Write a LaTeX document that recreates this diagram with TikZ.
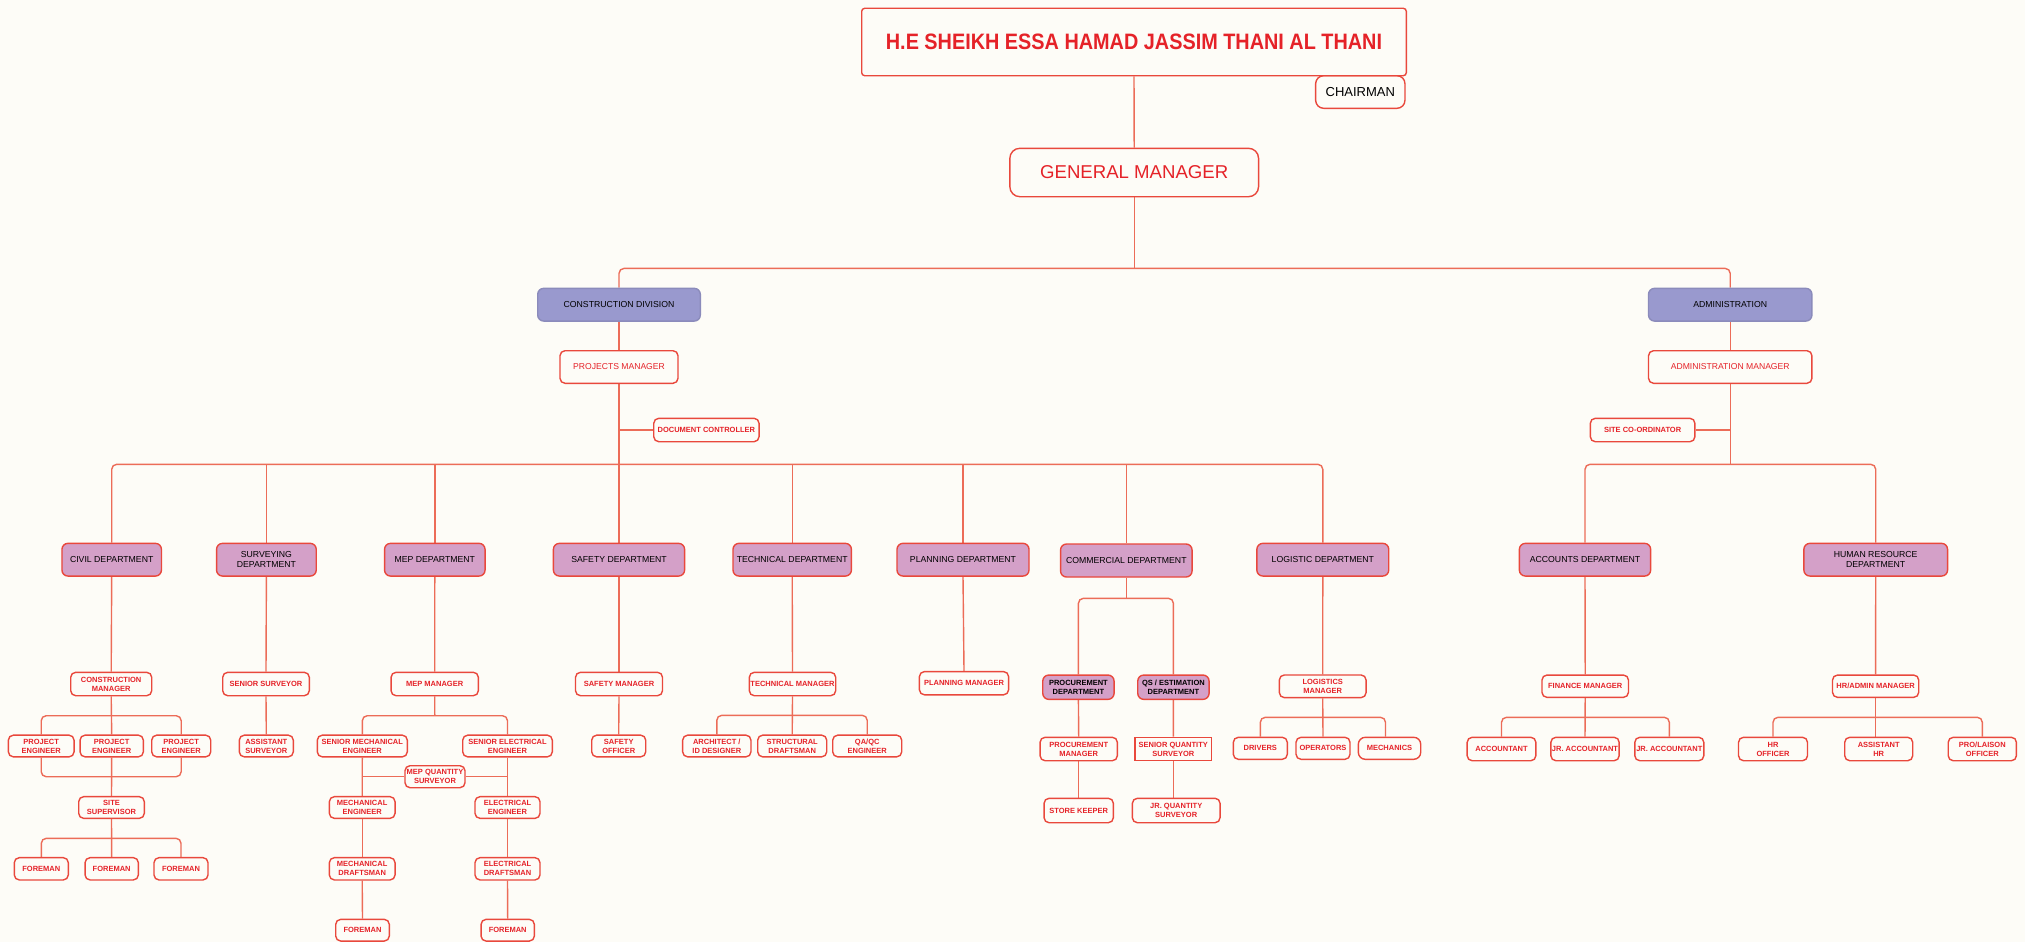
\documentclass[tikz,border=0pt]{standalone}
\usepackage{fontspec}
\usepackage{graphicx}
\setmainfont{Liberation Sans}
\definecolor{bgc}{RGB}{253,252,247}
\definecolor{linecol}{RGB}{236,108,88}
\definecolor{boxcol}{RGB}{233,72,60}
\definecolor{txtred}{RGB}{229,34,40}
\definecolor{divfill}{RGB}{153,153,206}
\definecolor{depfill}{RGB}{212,160,200}
\pgfdeclarelayer{bglayer}
\pgfdeclarelayer{lines}
\pgfsetlayers{bglayer,lines,main}
\tikzset{
  base/.style={draw=boxcol, line width=1.4pt, inner sep=0pt, align=center, rounded corners=5pt},
  sbox/.style={base, fill=bgc, text=txtred, font=\fontsize{7.5}{9}\selectfont\bfseries, minimum height=21.7pt},
  dbox/.style={base, fill=depfill, text=black, font=\fontsize{8.7}{10}\selectfont, minimum height=32.7pt, rounded corners=6pt},
  vbox/.style={dbox, fill=divfill, draw=divfill!85!black!60!divfill},
  pbox/.style={base, fill=depfill, text=black, font=\fontsize{7.5}{9}\selectfont\bfseries, minimum height=24.3pt, rounded corners=6pt},
  conn/.style={draw=linecol, line width=1.4pt},
  rc/.style={conn, rounded corners=5pt},
}
\begin{document}
\begin{tikzpicture}[x=1pt,y=-1pt]
\useasboundingbox (0,0) rectangle (2025,942);
\begin{pgfonlayer}{bglayer}
\fill[bgc] (0,0) rectangle (2025,942);
\end{pgfonlayer}

% top
\node[base, fill=bgc, minimum width=89.3pt, minimum height=32.6pt, rounded corners=8pt, font=\fontsize{13}{15}\selectfont] (chair) at (1360.3,92) {CHAIRMAN};
\node[base, fill=bgc, minimum width=544.6pt, minimum height=67.4pt, rounded corners=3pt, text=txtred] (top) at (1134,42) {\scalebox{0.89}[1]{\fontsize{22.3}{26}\selectfont\bfseries H.E SHEIKH ESSA HAMAD JASSIM THANI AL THANI}};
\node[base, fill=bgc, minimum width=248.7pt, minimum height=48.4pt, rounded corners=10pt, text=txtred, font=\fontsize{18.6}{22}\selectfont] (gm) at (1134.2,172.5) {GENERAL MANAGER};

\node[vbox, minimum width=162.6pt] (cd) at (619,304.7) {CONSTRUCTION DIVISION};
\node[vbox, minimum width=163.4pt] (adm) at (1730.2,304.7) {ADMINISTRATION};
\node[sbox, minimum width=118pt, minimum height=32.6pt, font=\fontsize{8.6}{10}\selectfont] (pm) at (619,367) {PROJECTS MANAGER};
\node[sbox, minimum width=163.4pt, minimum height=32.6pt, font=\fontsize{8.6}{10}\selectfont] (am) at (1730.2,367) {ADMINISTRATION MANAGER};
\node[sbox, minimum width=105.3pt, minimum height=23.4pt] (dc) at (706.4,430) {DOCUMENT CONTROLLER};
\node[sbox, minimum width=104.6pt, minimum height=23.4pt] (sc) at (1642.6,430) {SITE CO-ORDINATOR};

% departments
\node[dbox, minimum width=99.5pt] (civil) at (111.7,559.7) {CIVIL DEPARTMENT};
\node[dbox, minimum width=99.7pt] (surv) at (266.4,559.7) {SURVEYING\\DEPARTMENT};
\node[dbox, minimum width=100.5pt] (mep) at (434.8,559.7) {MEP DEPARTMENT};
\node[dbox, minimum width=131.2pt] (safety) at (619,559.7) {SAFETY DEPARTMENT};
\node[dbox, minimum width=118.4pt] (tech) at (792.2,559.7) {TECHNICAL DEPARTMENT};
\node[dbox, minimum width=132pt] (plan) at (963,559.7) {PLANNING DEPARTMENT};
\node[dbox, minimum width=131.5pt, minimum height=33pt] (comm) at (1126.3,560.5) {COMMERCIAL DEPARTMENT};
\node[dbox, minimum width=131.9pt] (log) at (1322.8,559.7) {LOGISTIC DEPARTMENT};
\node[dbox, minimum width=131.3pt] (acc) at (1585,559.7) {ACCOUNTS DEPARTMENT};
\node[dbox, minimum width=143.7pt] (hr) at (1875.7,559.7) {HUMAN RESOURCE\\DEPARTMENT};

% level 2
\node[sbox, minimum width=81pt, minimum height=23.4pt] (cm) at (111.2,684) {CONSTRUCTION\\MANAGER};
\node[sbox, minimum width=86.6pt, minimum height=23.4pt] (ss) at (266,684) {SENIOR SURVEYOR};
\node[sbox, minimum width=87.3pt, minimum height=23.4pt] (mepm) at (434.7,684) {MEP MANAGER};
\node[sbox, minimum width=87pt, minimum height=23.4pt] (sm) at (619,684) {SAFETY MANAGER};
\node[sbox, minimum width=86.4pt, minimum height=23.4pt] (tm) at (792.5,684) {TECHNICAL MANAGER};
\node[sbox, minimum width=89.2pt, minimum height=23.2pt] (planm) at (964,683.2) {PLANNING MANAGER};
\node[pbox, minimum width=71.3pt] (procd) at (1078.4,687.2) {PROCUREMENT\\DEPARTMENT};
\node[pbox, minimum width=71.3pt] (qsd) at (1173.4,687.2) {QS / ESTIMATION\\DEPARTMENT};
\node[sbox, minimum width=86.7pt, minimum height=22.7pt] (logm) at (1322.7,686.3) {LOGISTICS\\MANAGER};
\node[sbox, minimum width=86.5pt, minimum height=22.3pt] (finm) at (1585.2,686.2) {FINANCE MANAGER};
\node[sbox, minimum width=86.2pt, minimum height=22.3pt] (hram) at (1875.6,686.2) {HR/ADMIN MANAGER};

% level 3
\node[sbox, minimum width=65.7pt] (pe1) at (41.2,746) {PROJECT\\ENGINEER};
\node[sbox, minimum width=63.3pt] (pe2) at (111.7,746) {PROJECT\\ENGINEER};
\node[sbox, minimum width=59pt] (pe3) at (181.2,746) {PROJECT\\ENGINEER};
\node[sbox, minimum width=54pt] (asur) at (266.3,746) {ASSISTANT\\SURVEYOR};
\node[sbox, minimum width=90pt] (sme) at (362.3,746) {SENIOR MECHANICAL\\ENGINEER};
\node[sbox, minimum width=89.6pt] (see) at (507.5,746) {SENIOR ELECTRICAL\\ENGINEER};
\node[sbox, minimum width=54pt] (so) at (618.7,746) {SAFETY\\OFFICER};
\node[sbox, minimum width=68.3pt] (arch) at (716.8,746) {ARCHITECT /\\ID DESIGNER};
\node[sbox, minimum width=69pt] (struc) at (792.2,746) {STRUCTURAL\\DRAFTSMAN};
\node[sbox, minimum width=69pt] (qaqc) at (867.2,746) {QA/QC\\ENGINEER};
\node[sbox, minimum width=77.3pt, minimum height=23.4pt] (procm) at (1078.7,749) {PROCUREMENT\\MANAGER};
\node[sbox, minimum width=76.7pt, minimum height=23.4pt, rounded corners=0pt] (sqs) at (1173.3,749) {SENIOR QUANTITY\\SURVEYOR};
\node[sbox, minimum width=54pt, minimum height=22pt] (drivers) at (1260.3,748.3) {DRIVERS};
\node[sbox, minimum width=54pt, minimum height=22pt] (oper) at (1323,748.3) {OPERATORS};
\node[sbox, minimum width=62.4pt, minimum height=22pt, rounded corners=7pt] (mech) at (1389.5,748.3) {MECHANICS};
\node[sbox, minimum width=68.7pt, minimum height=23.4pt] (acct) at (1501.5,749) {ACCOUNTANT};
\node[sbox, minimum width=68.3pt, minimum height=23.4pt] (jra1) at (1585,749) {JR. ACCOUNTANT};
\node[sbox, minimum width=69pt, minimum height=23.4pt] (jra2) at (1669.3,749) {JR. ACCOUNTANT};
\node[sbox, minimum width=69pt, minimum height=23.4pt] (hro) at (1773,749) {HR\\OFFICER};
\node[sbox, minimum width=68pt, minimum height=23.4pt] (ahr) at (1878.7,749) {ASSISTANT\\HR};
\node[sbox, minimum width=68.2pt, minimum height=23.4pt] (pro) at (1982.3,749) {PRO/LAISON\\OFFICER};

\node[sbox, minimum width=60pt, minimum height=22pt] (mqs) at (435,776.7) {MEP QUANTITY\\SURVEYOR};

% level 4
\node[sbox, minimum width=65.6pt] (ssup) at (111.5,807.5) {SITE\\SUPERVISOR};
\node[sbox, minimum width=65.7pt] (meng) at (362.2,807.5) {MECHANICAL\\ENGINEER};
\node[sbox, minimum width=65pt] (eeng) at (507.5,807.5) {ELECTRICAL\\ENGINEER};
\node[sbox, minimum width=69.3pt, minimum height=24.4pt] (stk) at (1078.7,810.5) {STORE KEEPER};
\node[sbox, minimum width=87.7pt, minimum height=24.4pt] (jrqs) at (1176.2,810.5) {JR. QUANTITY\\SURVEYOR};

% level 5
\node[sbox, minimum width=54pt, minimum height=22.3pt] (f1) at (41.3,868.8) {FOREMAN};
\node[sbox, minimum width=53.3pt, minimum height=22.3pt] (f2) at (111.7,868.8) {FOREMAN};
\node[sbox, minimum width=54pt, minimum height=22.3pt] (f3) at (181,868.8) {FOREMAN};
\node[sbox, minimum width=65.7pt, minimum height=22.3pt] (mdr) at (362.2,868.8) {MECHANICAL\\DRAFTSMAN};
\node[sbox, minimum width=65pt, minimum height=22.3pt] (edr) at (507.5,868.8) {ELECTRICAL\\DRAFTSMAN};

% level 6
\node[sbox, minimum width=53.6pt] (fm) at (362.5,930.2) {FOREMAN};
\node[sbox, minimum width=53.3pt] (fe) at (507.7,930.2) {FOREMAN};

% bus coordinates
\coordinate (b1) at (1134.2,268.4);
\coordinate (b2) at (619,464.3);
\coordinate (b3) at (1730.2,464.3);
\coordinate (c1) at (111.7,715.7);
\coordinate (c2) at (111.7,776.7);
\coordinate (c3) at (111.7,838.3);
\coordinate (m1) at (434.8,715.7);
\coordinate (t1) at (792.2,715.3);
\coordinate (k1) at (1126.3,598.3);
\coordinate (l1) at (1322.8,717.3);
\coordinate (a1) at (1585.2,717.3);
\coordinate (h1) at (1875.6,717.3);

\begin{pgfonlayer}{lines}
\draw[conn] (top.south) -- (gm.north);
\draw[conn] (gm.south) -- (b1);
\draw[rc] (cd.north) |- (b1) -| (adm.north);
\draw[conn] (cd.south) -- (pm.north);
\draw[conn] (pm.south) -- (safety.north);
\draw[conn] (dc.west) -- (dc.west -| pm.south);
\draw[rc] (civil.north) |- (b2) -| (log.north);
\foreach \d in {surv,mep,tech,plan,comm} \draw[conn] (\d.north) -- (\d.north |- b2);
\draw[conn] (adm.south) -- (am.north);
\draw[conn] (am.south) -- (b3);
\draw[conn] (sc.east) -- (sc.east -| am.south);
\draw[rc] (acc.north) |- (b3) -| (hr.north);
% civil
\draw[conn] (civil.south) -- (cm.north);
\draw[conn] (cm.south) -- (pe2.north);
\draw[conn] (pe2.south) -- (ssup.north);
\draw[conn] (ssup.south) -- (f2.north);
\draw[rc] (pe1.north) |- (c1) -| (pe3.north);
\draw[rc] (pe1.south) |- (c2) -| (pe3.south);
\draw[rc] (f1.north) |- (c3) -| (f3.north);
% surveying
\draw[conn] (surv.south) -- (ss.north);
\draw[conn] (ss.south) -- (asur.north);
% mep
\draw[conn] (mep.south) -- (mepm.north);
\draw[conn] (mepm.south) -- (m1);
\draw[rc] (sme.north) |- (m1) -| (see.north);
\draw[conn] (sme.south) -- (meng.north);
\draw[conn] (see.south) -- (eeng.north);
\draw[conn] (mqs.west) -- (mqs.west -| sme.south);
\draw[conn] (mqs.east) -- (mqs.east -| see.south);
\draw[conn] (meng.south) -- (mdr.north);
\draw[conn] (mdr.south) -- (fm.north);
\draw[conn] (eeng.south) -- (edr.north);
\draw[conn] (edr.south) -- (fe.north);
% safety
\draw[conn] (safety.south) -- (sm.north);
\draw[conn] (sm.south) -- (so.north);
% technical
\draw[conn] (tech.south) -- (tm.north);
\draw[conn] (tm.south) -- (struc.north);
\draw[rc] (arch.north) |- (t1) -| (qaqc.north);
% planning
\draw[conn] (plan.south) -- (planm.north);
% commercial
\draw[conn] (comm.south) -- (k1);
\draw[rc] (procd.north) |- (k1) -| (qsd.north);
\draw[conn] (procd.south) -- (procm.north);
\draw[conn] (procm.south) -- (stk.north);
\draw[conn] (qsd.south) -- (sqs.north);
\draw[conn] (sqs.south) -- (sqs.south |- jrqs.north);
% logistic
\draw[conn] (log.south) -- (logm.north);
\draw[conn] (logm.south) -- (oper.north);
\draw[rc] (drivers.north) |- (l1) -| ([xshift=-4pt]mech.north);
% accounts
\draw[conn] (acc.south) -- (finm.north);
\draw[conn] (finm.south) -- (jra1.north);
\draw[rc] (acct.north) |- (a1) -| (jra2.north);
% hr
\draw[conn] (hr.south) -- (hram.north);
\draw[conn] (hram.south) -- (hram.south |- ahr.north);
\draw[rc] (hro.north) |- (h1) -| (pro.north);
\end{pgfonlayer}
\end{tikzpicture}
\end{document}
